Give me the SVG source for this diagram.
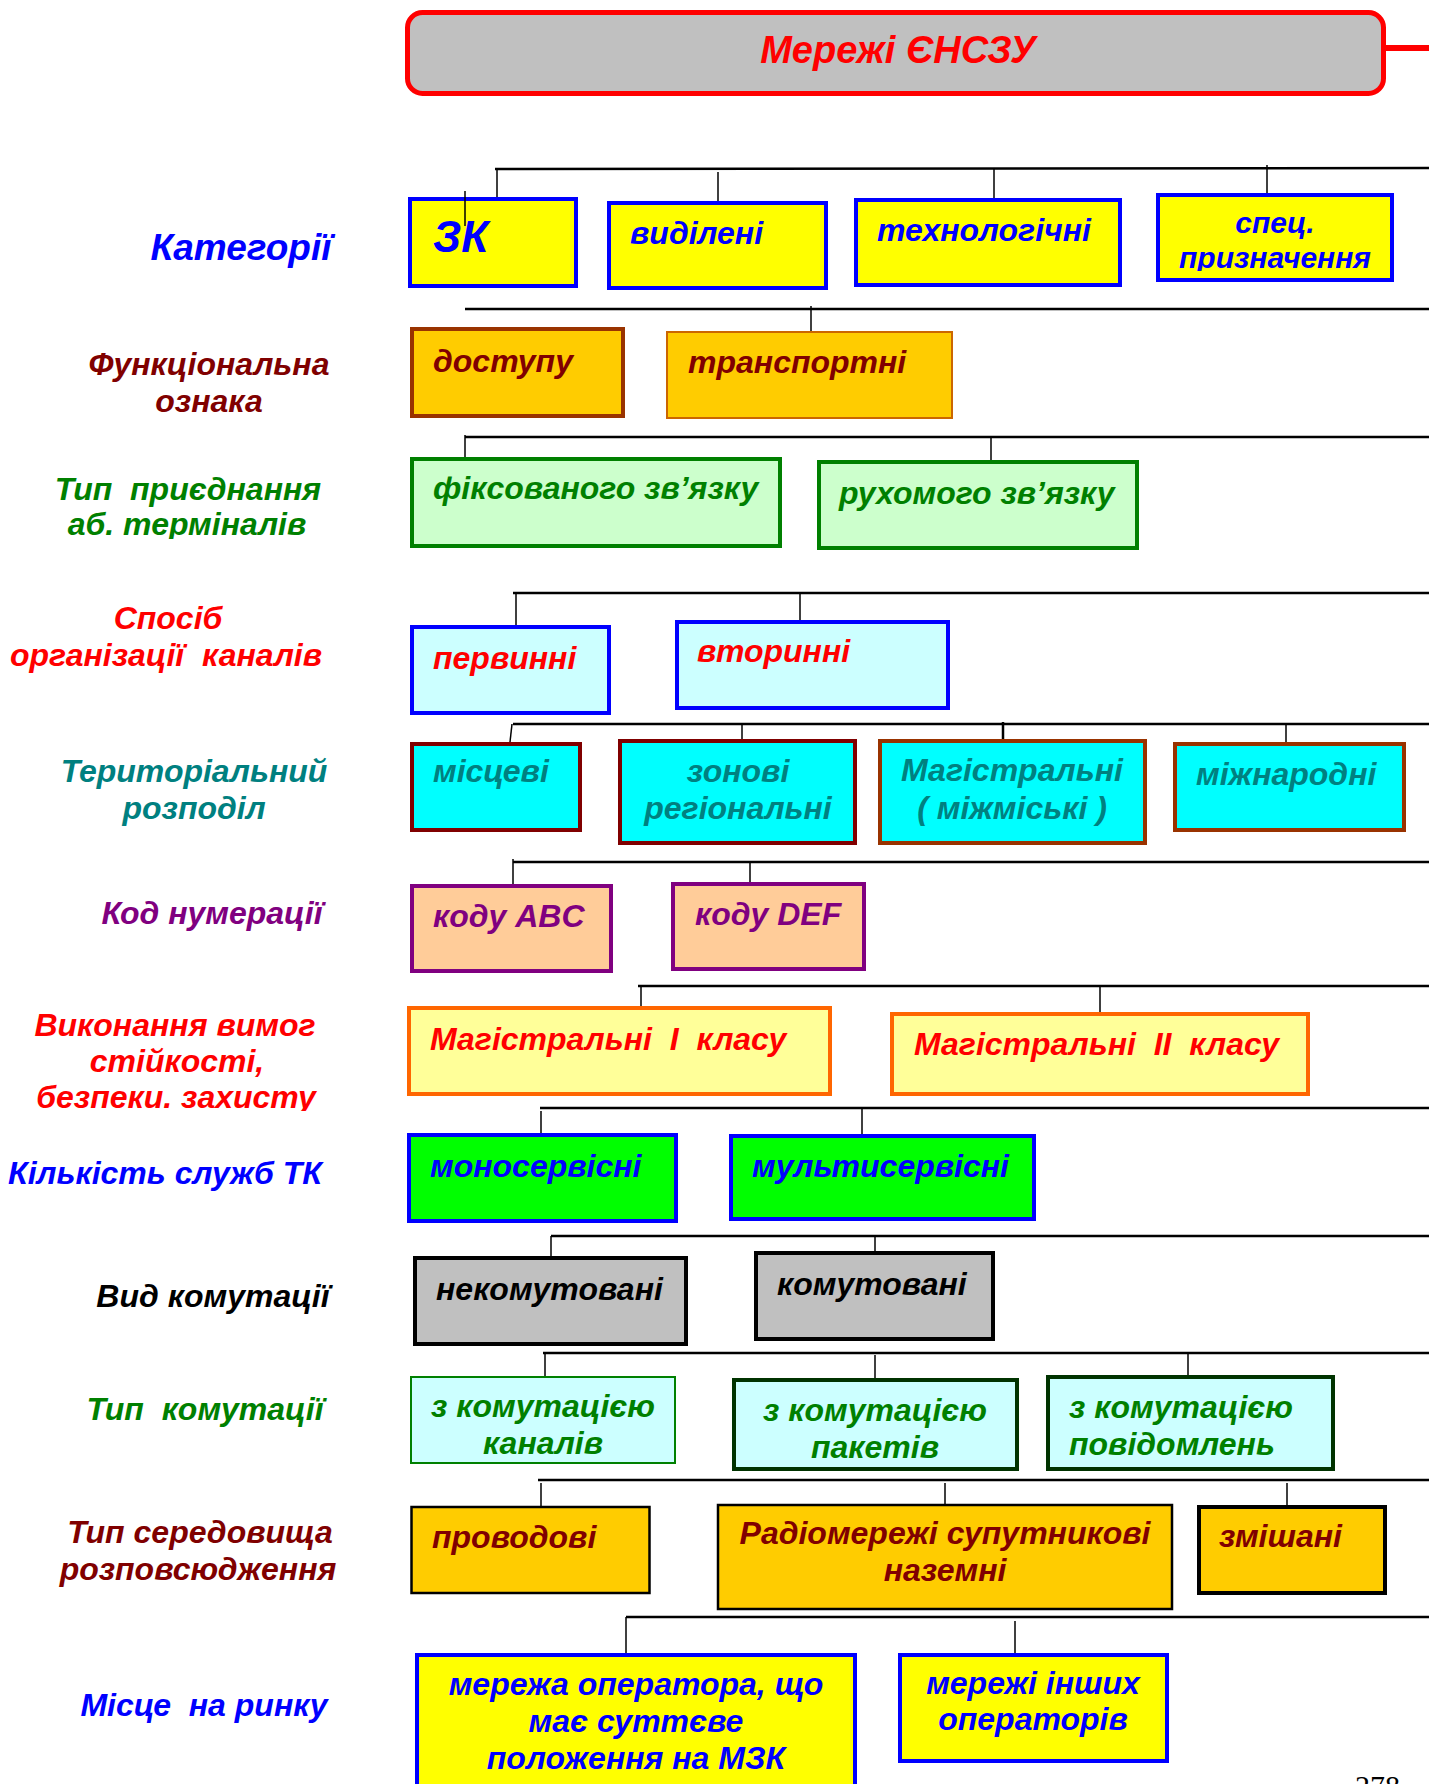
<svg xmlns="http://www.w3.org/2000/svg" width="1429" height="1784" viewBox="0 0 1429 1784">
<style>
text{font-family:"Liberation Sans",Arial,sans-serif;font-weight:bold;font-style:italic;white-space:pre}
.lab{font-size:32px;text-anchor:middle}
.nt{font-size:32px}
.c{text-anchor:middle}
.bus{stroke:#000;stroke-width:2.5;fill:none}
.drop{stroke:#000;stroke-width:1.5;fill:none}
.blue{fill:#0000FF}.dred{fill:#800000}.green{fill:#008000}.red{fill:#FF0000}.teal{fill:#008080}.purp{fill:#800080}.blk{fill:#000}
</style>
<defs>
<clipPath id="clipA"><rect x="0" y="470" width="400" height="69"/></clipPath>
<clipPath id="clipB"><rect x="0" y="1000" width="400" height="111"/></clipPath>
<clipPath id="clipC"><rect x="1158" y="195" width="234" height="76"/></clipPath>
</defs>

<g id="labels">
<text class="lab blue" x="241" y="260" style="font-size:37px">Категорії</text>
<text class="lab dred" x="209" y="375">Функціональна</text>
<text class="lab dred" x="209" y="412">ознака</text>
<g clip-path="url(#clipA)">
<text class="lab green" x="188" y="500">Тип  приєднання</text>
<text class="lab green" x="187" y="535">аб. терміналів</text>
</g>
<text class="lab red" x="168" y="629">Спосіб</text>
<text class="lab red" x="166" y="666">організації  каналів</text>
<text class="lab teal" x="194" y="782">Територіальний</text>
<text class="lab teal" x="194" y="819">розподіл</text>
<text class="lab purp" x="212" y="924">Код нумерації</text>
<g clip-path="url(#clipB)">
<text class="lab red" x="175" y="1036">Виконання вимог</text>
<text class="lab red" x="177" y="1072">стійкості,</text>
<text class="lab red" x="176" y="1108">безпеки. захисту</text>
</g>
<text class="lab blue" x="165" y="1184">Кількість служб ТК</text>
<text class="lab blk" x="213" y="1307">Вид комутації</text>
<text class="lab green" x="205" y="1420">Тип  комутації</text>
<text class="lab dred" x="200" y="1543">Тип середовища</text>
<text class="lab dred" x="198" y="1580">розповсюдження</text>
<text class="lab blue" x="204" y="1716">Місце  на ринку</text>
</g>

<g id="connectors">
<line x1="1386" y1="48" x2="1429" y2="48" stroke="#FF0000" stroke-width="6"/>
<line class="bus" x1="495" y1="169" x2="1429" y2="168"/>
<line class="bus" x1="465" y1="309" x2="1429" y2="309"/>
<line class="bus" x1="465" y1="437" x2="1429" y2="437"/>
<line class="bus" x1="513" y1="593" x2="1429" y2="593"/>
<line class="bus" x1="513" y1="724" x2="1429" y2="724"/>
<line class="bus" x1="513" y1="862" x2="1429" y2="862"/>
<line class="bus" x1="638" y1="986" x2="1429" y2="986"/>
<line class="bus" x1="540" y1="1108" x2="1429" y2="1108"/>
<line class="bus" x1="551" y1="1236" x2="1429" y2="1236"/>
<line class="bus" x1="543" y1="1353" x2="1429" y2="1353"/>
<line class="bus" x1="538" y1="1480" x2="1429" y2="1480"/>
<line class="bus" x1="626" y1="1617" x2="1429" y2="1617"/>
<line class="drop" x1="497" y1="169" x2="497" y2="197"/>
<line class="drop" x1="718" y1="172" x2="718" y2="201"/>
<line class="drop" x1="994" y1="168" x2="994" y2="198"/>
<line class="drop" x1="1267" y1="165" x2="1267" y2="193"/>
<line class="drop" x1="811" y1="306" x2="811" y2="331"/>
<line class="drop" x1="465" y1="435" x2="465" y2="457"/>
<line class="drop" x1="991" y1="437" x2="991" y2="460"/>
<line class="drop" x1="516" y1="593" x2="516" y2="625"/>
<line class="drop" x1="800" y1="593" x2="800" y2="620"/>
<line class="drop" x1="512" y1="724" x2="510" y2="742"/>
<line class="drop" x1="742" y1="724" x2="742" y2="739"/>
<line class="drop" x1="1003" y1="722" x2="1003" y2="739" style="stroke-width:2.5"/>
<line class="drop" x1="1286" y1="724" x2="1286" y2="742"/>
<line class="drop" x1="513" y1="859" x2="513" y2="884"/>
<line class="drop" x1="750" y1="862" x2="750" y2="882"/>
<line class="drop" x1="641" y1="986" x2="641" y2="1006"/>
<line class="drop" x1="1100" y1="986" x2="1100" y2="1012"/>
<line class="drop" x1="541" y1="1111" x2="541" y2="1133"/>
<line class="drop" x1="862" y1="1108" x2="862" y2="1134"/>
<line class="drop" x1="551" y1="1236" x2="551" y2="1256"/>
<line class="drop" x1="875" y1="1236" x2="875" y2="1251"/>
<line class="drop" x1="545" y1="1353" x2="545" y2="1376"/>
<line class="drop" x1="875" y1="1355" x2="875" y2="1378"/>
<line class="drop" x1="1188" y1="1353" x2="1188" y2="1375"/>
<line class="drop" x1="541" y1="1483" x2="541" y2="1506"/>
<line class="drop" x1="945" y1="1483" x2="945" y2="1504"/>
<line class="drop" x1="1287" y1="1483" x2="1287" y2="1505"/>
<line class="drop" x1="626" y1="1617" x2="626" y2="1653"/>
<line class="drop" x1="1015" y1="1621" x2="1015" y2="1656"/>
</g>

<g id="title">
<rect x="407.5" y="12.5" width="976" height="81" rx="15" fill="#C0C0C0" stroke="#FF0000" stroke-width="5"/>
<text class="red c" x="898" y="63" style="font-size:38px">Мережі ЄНСЗУ</text>
</g>

<g id="n-zk"><rect x="410" y="199" width="166" height="87" fill="#FFFF00" stroke="#0000FF" stroke-width="4"/><text class="blue" x="433" y="252" style="font-size:44px">ЗК</text></g>
<line class="drop" x1="465" y1="191" x2="465" y2="226"/>
<g id="n-vydileni"><rect x="609" y="203" width="217" height="85" fill="#FFFF00" stroke="#0000FF" stroke-width="4"/><text class="nt blue" x="630" y="244">виділені</text></g>
<g id="n-tekhn"><rect x="856" y="200" width="264" height="85" fill="#FFFF00" stroke="#0000FF" stroke-width="4"/><text class="nt blue" x="877" y="241">технологічні</text></g>
<g id="n-spets"><rect x="1158" y="195" width="234" height="85" fill="#FFFF00" stroke="#0000FF" stroke-width="4"/>
<g clip-path="url(#clipC)"><text class="blue c" x="1275" y="233" style="font-size:30px">спец.</text><text class="blue c" x="1275" y="268" style="font-size:30px">призначення</text></g></g>

<g id="n-dostupu"><rect x="412" y="329" width="211" height="87" fill="#FFCC00" stroke="#993300" stroke-width="4"/><text class="nt dred" x="433" y="372">доступу</text></g>
<g id="n-transp"><rect x="667" y="332" width="285" height="86" fill="#FFCC00" stroke="#CC6600" stroke-width="2"/><text class="nt dred" x="688" y="373">транспортні</text></g>

<g id="n-fiks"><rect x="412" y="459" width="368" height="87" fill="#CCFFCC" stroke="#008000" stroke-width="4"/><text class="nt green" x="433" y="499">фіксованого зв’язку</text></g>
<g id="n-rukh"><rect x="819" y="462" width="318" height="86" fill="#CCFFCC" stroke="#008000" stroke-width="4"/><text class="nt green" x="839" y="504">рухомого зв’язку</text></g>

<g id="n-pervynni"><rect x="412" y="627" width="197" height="86" fill="#CCFFFF" stroke="#0000FF" stroke-width="4"/><text class="nt red" x="433" y="669">первинні</text></g>
<g id="n-vtorynni"><rect x="677" y="622" width="271" height="86" fill="#CCFFFF" stroke="#0000FF" stroke-width="4"/><text class="nt red" x="697" y="662">вторинні</text></g>

<g id="n-mistsevi"><rect x="412" y="744" width="168" height="86" fill="#00FFFF" stroke="#800000" stroke-width="4"/><text class="nt teal" x="433" y="782">місцеві</text></g>
<g id="n-zonovi"><rect x="620" y="741" width="235" height="102" fill="#00FFFF" stroke="#800000" stroke-width="4"/><text class="nt teal c" x="738" y="782">зонові</text><text class="nt teal c" x="738" y="819">регіональні</text></g>
<g id="n-mag"><rect x="880" y="741" width="265" height="102" fill="#00FFFF" stroke="#993300" stroke-width="4"/><text class="nt teal c" x="1012" y="781">Магістральні</text><text class="nt teal c" x="1012" y="819">( міжміські )</text></g>
<g id="n-mizhn"><rect x="1175" y="744" width="229" height="86" fill="#00FFFF" stroke="#993300" stroke-width="4"/><text class="nt teal" x="1196" y="785">міжнародні</text></g>

<g id="n-abc"><rect x="412" y="886" width="199" height="85" fill="#FFCC99" stroke="#800080" stroke-width="4"/><text class="nt purp" x="433" y="927">коду ABC</text></g>
<g id="n-def"><rect x="673" y="884" width="191" height="85" fill="#FFCC99" stroke="#800080" stroke-width="4"/><text class="nt purp" x="695" y="925">коду DEF</text></g>

<g id="n-mag1"><rect x="409" y="1008" width="421" height="86" fill="#FFFF99" stroke="#FF6600" stroke-width="4"/><text class="nt red" x="430" y="1050">Магістральні  I  класу</text></g>
<g id="n-mag2"><rect x="892" y="1014" width="416" height="80" fill="#FFFF99" stroke="#FF6600" stroke-width="4"/><text class="nt red" x="914" y="1055">Магістральні  II  класу</text></g>

<g id="n-mono"><rect x="409" y="1135" width="267" height="86" fill="#00FF00" stroke="#0000FF" stroke-width="4"/><text class="nt blue" x="430" y="1177">моносервісні</text></g>
<g id="n-multi"><rect x="731" y="1136" width="303" height="83" fill="#00FF00" stroke="#0000FF" stroke-width="4"/><text class="nt blue" x="752" y="1177">мультисервісні</text></g>

<g id="n-nekom"><rect x="415" y="1258" width="271" height="86" fill="#C0C0C0" stroke="#000" stroke-width="4"/><text class="nt blk" x="436" y="1300">некомутовані</text></g>
<g id="n-kom"><rect x="756" y="1253" width="237" height="86" fill="#C0C0C0" stroke="#000" stroke-width="4"/><text class="nt blk" x="777" y="1295">комутовані</text></g>

<g id="n-kanaliv"><rect x="411" y="1377" width="264" height="86" fill="#CCFFFF" stroke="#008000" stroke-width="2"/><text class="nt green c" x="543" y="1417">з комутацією</text><text class="nt green c" x="543" y="1454">каналів</text></g>
<g id="n-paketiv"><rect x="734" y="1380" width="283" height="89" fill="#CCFFFF" stroke="#003300" stroke-width="4"/><text class="nt green c" x="875" y="1421">з комутацією</text><text class="nt green c" x="875" y="1458">пакетів</text></g>
<g id="n-povid"><rect x="1048" y="1377" width="285" height="92" fill="#CCFFFF" stroke="#003300" stroke-width="4"/><text class="nt green" x="1069" y="1418">з комутацією</text><text class="nt green" x="1069" y="1455">повідомлень</text></g>

<g id="n-provod"><rect x="411.5" y="1507" width="238" height="86" fill="#FFCC00" stroke="#000" stroke-width="2.5"/><text class="nt dred" x="432" y="1548">проводові</text></g>
<g id="n-radio"><rect x="718" y="1505" width="454" height="104" fill="#FFCC00" stroke="#000" stroke-width="2.5"/><text class="nt dred c" x="945" y="1544">Радіомережі супутникові</text><text class="nt dred c" x="945" y="1581">наземні</text></g>
<g id="n-zmish"><rect x="1199" y="1507" width="186" height="86" fill="#FFCC00" stroke="#000" stroke-width="4"/><text class="nt dred" x="1219" y="1547">змішані</text></g>

<g id="n-smp"><rect x="417" y="1655" width="438" height="150" fill="#FFFF00" stroke="#0000FF" stroke-width="4"/><text class="nt blue c" x="636" y="1695">мережа оператора, що</text><text class="nt blue c" x="636" y="1732">має суттєве</text><text class="nt blue c" x="636" y="1769">положення на МЗК</text></g>
<g id="n-inshi"><rect x="900" y="1655" width="267" height="106" fill="#FFFF00" stroke="#0000FF" stroke-width="4"/><text class="nt blue c" x="1033" y="1694">мережі інших</text><text class="nt blue c" x="1033" y="1730">операторів</text></g>

<text x="1355" y="1796" style="font-family:'Liberation Serif','Times New Roman',serif;font-weight:normal;font-style:normal;font-size:30px;fill:#000">278</text>
</svg>
